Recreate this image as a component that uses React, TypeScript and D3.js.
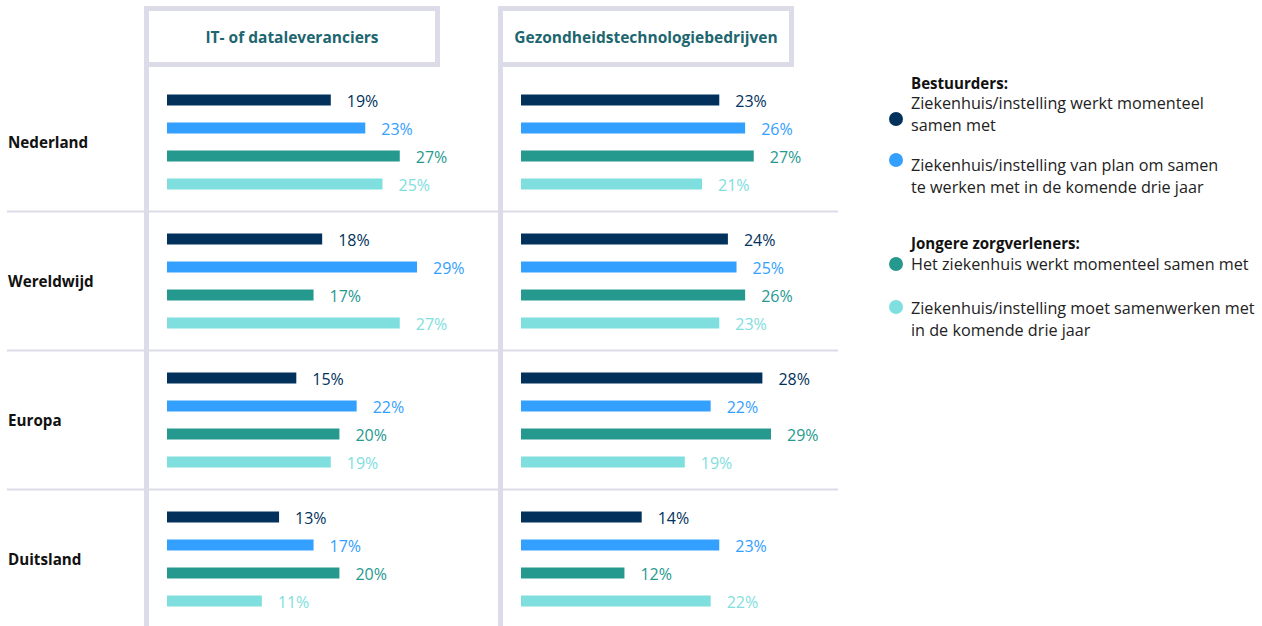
import React from "react";
import * as d3 from "d3";

const countries = ["Nederland", "Wereldwijd", "Europa", "Duitsland"];
const panels = ["IT- of dataleveranciers", "Gezondheidstechnologiebedrijven"];
const seriesKeys = ["bestNu", "bestPlan", "jongNu", "jongMoet"];
const seriesColors = ["#02325c", "#33a0ff", "#26998f", "#7fdede"];

// values per country: [bestNu, bestPlan, jongNu, jongMoet]
const itValues = [
  [19, 23, 27, 25],
  [18, 29, 17, 27],
  [15, 22, 20, 19],
  [13, 17, 20, 11],
];
const gezValues = [
  [23, 26, 27, 21],
  [24, 25, 26, 23],
  [28, 22, 29, 19],
  [14, 23, 12, 22],
];
const panelValues = [itValues, gezValues];

const legendGroups = [
  { title: "Bestuurders:", items: [
    { lines: ["Ziekenhuis/instelling werkt momenteel", "samen met"] },
    { lines: ["Ziekenhuis/instelling van plan om samen", "te werken met in de komende drie jaar"] },
  ]},
  { title: "Jongere zorgverleners:", items: [
    { lines: ["Het ziekenhuis werkt momenteel samen met"] },
    { lines: ["Ziekenhuis/instelling moet samenwerken met", "in de komende drie jaar"] },
  ]},
];

const FONT = "'Open Sans', sans-serif";
const GRID = "#dcdce8";

export default function App() {
  const W = 1262, H = 626;
  const rowScale = d3.scaleBand<string>().domain(countries).range([72.5, 628.5]);
  const barScale = d3.scaleBand<string>().domain(seriesKeys).range([-56, 56]).paddingInner(0.6).paddingOuter(0.3);
  const x = d3.scaleLinear().domain([0, 29]).range([0, 250]);
  const panelLeft = [146.5, 500.5];
  const barStart = [167, 521];
  const bh = 11;

  const legendLayout = [
    { titleY: 83, items: [{ y: 103, dotY: 119 }, { y: 165, dotY: 160 }] },
    { titleY: 243, items: [{ y: 264, dotY: 264 }, { y: 308, dotY: 307 }] },
  ];

  return (
    <svg width={W} height={H} style={{ position: "absolute", left: 0, top: 0, fontFamily: FONT }}>
      <rect width={W} height={H} fill="#fff" />
      {countries.slice(1).map((c) => (
        <line key={c} x1={7} x2={838} y1={rowScale(c)!} y2={rowScale(c)!} stroke={GRID} strokeWidth={2} />
      ))}
      {panels.map((p, pi) => (
        <g key={p}>
          <line x1={panelLeft[pi]} x2={panelLeft[pi]} y1={6} y2={H} stroke={GRID} strokeWidth={5} />
          <rect x={panelLeft[pi]} y={8.5} width={291} height={56} fill="#fff" stroke={GRID} strokeWidth={5} />
          <text x={panelLeft[pi] + 145.5} y={37} textAnchor="middle" dominantBaseline="central"
            fontSize={15.5} fontWeight={700} fill="#1d6670">{p}</text>
          {countries.map((c, ci) => {
            const cy = rowScale(c)! + rowScale.bandwidth() / 2;
            return seriesKeys.map((s, si) => {
              const v = panelValues[pi][ci][si];
              const by = cy + barScale(s)! + barScale.bandwidth() / 2;
              return (
                <g key={c + s}>
                  <rect x={barStart[pi]} y={by - bh / 2} width={x(v)} height={bh} fill={seriesColors[si]} />
                  <text x={barStart[pi] + x(v) + 16} y={by + 1} dominantBaseline="central" fontSize={16} fill={seriesColors[si]}>{v}%</text>
                </g>
              );
            });
          })}
        </g>
      ))}
      {countries.map((c) => (
        <text key={c} x={8} y={rowScale(c)! + rowScale.bandwidth() / 2} dominantBaseline="central"
          fontSize={15.2} fontWeight={700} fill="#111">{c}</text>
      ))}
      {legendGroups.map((g, gi) => (
        <g key={g.title}>
          <text x={911} y={legendLayout[gi].titleY} dominantBaseline="central" fontSize={15.1} fontWeight={700} fill="#111">{g.title}</text>
          {g.items.map((it, ii) => {
            const si = gi * 2 + ii;
            const lay = legendLayout[gi].items[ii];
            return (
              <g key={ii}>
                <circle cx={896} cy={lay.dotY} r={7} fill={seriesColors[si]} />
                {it.lines.map((ln, li) => (
                  <text key={li} x={911} y={lay.y + li * 22} dominantBaseline="central" fontSize={16.2} fill="#222">{ln}</text>
                ))}
              </g>
            );
          })}
        </g>
      ))}
    </svg>
  );
}
